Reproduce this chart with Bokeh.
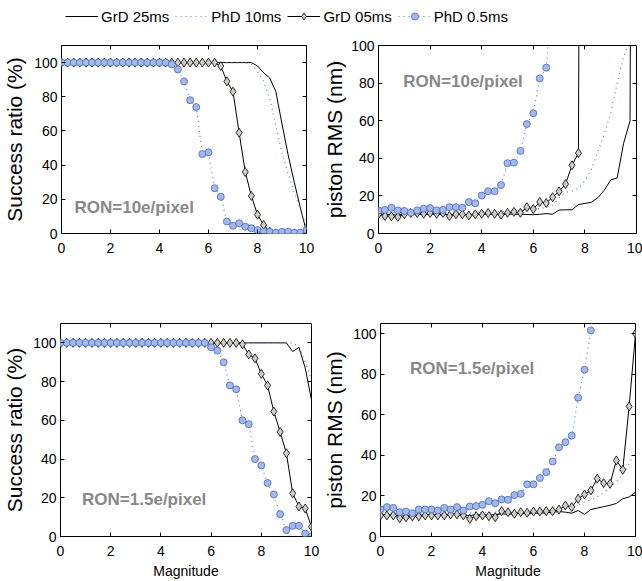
import numpy as np
from bokeh.plotting import figure
from bokeh.layouts import column, row
from bokeh.models import (Range1d, LinearAxis, SingleIntervalTicker, Label, Legend, LegendItem,
                          CustomJSTickFormatter)
from bokeh.embed import file_html
from bokeh.resources import INLINE

NAN = float("nan")

MAG = [0.0, 0.25, 0.5, 0.75, 1.0, 1.25, 1.5, 1.75, 2.0, 2.25, 2.5, 2.75, 3.0, 3.25,
       3.5, 3.75, 4.0, 4.25, 4.5, 4.75, 5.0, 5.25, 5.5, 5.75, 6.0, 6.25, 6.5, 6.75,
       7.0, 7.25, 7.5, 7.75, 8.0, 8.25, 8.5, 8.75, 9.0, 9.25, 9.5, 9.75, 10.0]

SERIES_NAMES = ["GrD 25ms", "PhD 10ms", "GrD 05ms", "PhD 0.5ms"]

# ---- RON = 10 e/pixel : success ratio (%)
SR10_GRD25 = [100] * 32 + [98, 94, 91, 83, 64, 46, 30, 15, 1]
SR10_PHD10 = [100] * 31 + [99, 95, 89, 79, 63, 47, 35, 24, 14, 4]
SR10_GRD05 = [100] * 26 + [98, 89, 83, 59, 36, 22, 11, 5, 1, 0, 0, 0, 0, 0, 0]
SR10_PHD05 = [100] * 18 + [99, 96, 89, 78, 74, 46.5, 47.5, 26.5, 21.5, 7, 4.5, 6, 4, 3, 2,
                           1, 1, 0.5, 1, 1, 0.5, 0.5, 2]

# ---- RON = 10 e/pixel : piston RMS (nm)
RMS10_GRD25 = [10.5, 10.2, 10.0, 9.8, 10.2, 10.5, 10.3, 10.0, 10.2, 10.4, 10.0, 10.1,
               10.3, 10.0, 10.2, 10.0, 10.1, 10.3, 10.2, 10.0, 10.4, 10.2, 10.3, 10.1,
               10.0, 10.2, 10.6, 10.2, 12.5, 12.6, 12.6, 15.4, 16.0, 16.6, 19.0, 23.0,
               28.5, 29.5, 48.0, 60.0, 1000.0]
RMS10_PHD10 = [11.5, 11.2, 11.0, 11.3, 11.0, 10.8, 11.2, 11.4, 11.0, 11.2, 11.3, 11.0,
               11.4, 11.2, 11.5, 11.3, 11.6, 11.4, 11.8, 11.6, 12.0, 12.2, 12.0, 12.5,
               12.8, 13.2, 13.8, 15, 19, 22, 22.5, 24, 28, 34, 43.5, 53, 64, 80, 94,
               103, 115]
RMS10_GRD05 = [10.2, 9.3, 9.1, 8.8, 10.2, 10.9, 10.9, 10.5, 10.9, 10.5, 10.9, 9.3, 10.2,
               10.2, 9.6, 10.2, 10.5, 10.9, 10.5, 10.0, 11, 11.5, 11, 14, 13, 16.8, 16.2,
               19.3, 22.4, 26.3, 36.3, 42.8, 1000.0] + [NAN] * 8
RMS10_PHD05 = [12.3, 12.6, 13.7, 12.3, 12.0, 11.0, 12.3, 13.2, 13.5, 12.3, 12.6, 14.0,
               14.0, 13.7, 16.7, 16.1, 20.2, 22.5, 22.5, 25.8, 37.4, 37.7, 43.9, 58.2,
               64.0, 82.5, 88.2, 130.0] + [NAN] * 13

# ---- RON = 1.5 e/pixel : success ratio (%)
SR15_GRD25 = [100] * 37 + [95.5, 97.7, 87, 70.5]
SR15_PHD10 = [100] * 38 + [98, 90, 81]
SR15_GRD05 = [100] * 29 + [99.3, 94, 92, 84, 78, 64.5, 54, 43, 22.3, 15.5, 14.5, 5]
SR15_PHD05 = [100] * 24 + [97.7, 96, 90, 78, 76, 60, 58, 40, 36.7, 27.6, 21.7, 11.5,
                           3.3, 5.5, 5.5, 1.5, 0]

# ---- RON = 1.5 e/pixel : piston RMS (nm)
RMS15_GRD25 = [10.5, 10.8, 10.6, 10.2, 10.0, 10.4, 10.6, 10.5, 10.8, 10.6, 10.4, 10.9,
               11.0, 10.6, 10.3, 10.8, 10.6, 10.5, 10.8, 11.2, 11.0, 11.2, 11.4, 11.2,
               11.4, 11.5, 11.7, 12.0, 12.3, 12.0, 11.5, 12.8, 10.9, 13.3, 14.0, 14.7,
               15.4, 16.3, 18.6, 19.5, 21.8]
RMS15_PHD10 = [11.8, 11.5, 11.6, 11.3, 11.2, 11.5, 11.6, 11.4, 11.7, 11.5, 11.6, 11.8,
               11.5, 11.3, 11.6, 11.8, 11.7, 11.9, 12.0, 11.8, 12.0, 12.1, 11.9, 12.2,
               12.0, 12.3, 12.2, 12.5, 12.8, 13.5, 14.5, 15.5, 17, 18, 19.5, 21.5, 24,
               27, 30.5, 36, 42]
RMS15_GRD05 = [10.4, 10.4, 10.4, 9.0, 9.5, 9.9, 9.9, 10.4, 10.4, 10.4, 10.4, 10.9, 10.9,
               10.4, 8.7, 10.0, 10.4, 10.0, 9.5, 12.5, 12.0, 11.2, 12.0, 11.7, 12.3, 12.3,
               12.5, 12.5, 13.3, 15.3, 14.5, 18.6, 20.7, 22.7, 28.5, 26.3, 26.0, 37.5,
               32.9, 64.1, 100.0]
RMS15_PHD05 = [13.3, 14.5, 14.1, 12.0, 12.3, 11.5, 13.3, 13.3, 13.3, 12.8, 14.1, 13.3,
               14.5, 12.8, 14.8, 15.0, 15.6, 17.4, 16.4, 18.3, 18.1, 20.4, 21.0, 25.7,
               25.7, 28.8, 31.7, 37.0, 44.0, 46.5, 49.7, 68.4, 82.2, 101.6, 130.0] + [NAN] * 6

BLUE_LINE = "#5b7cd6"
CIRCLE_FILL = "#a5b9e8"
CIRCLE_EDGE = "#4565c4"
DIAMOND_FILL = "#cdcdc5"
RON_COLOR = "#888888"
SANS = "Liberation Sans"


def style_axis(ax, labels=True, standoff=4, size="14px"):
    ax.major_tick_in = 4
    ax.major_tick_out = 0
    ax.minor_tick_in = 0
    ax.minor_tick_out = 0
    ax.minor_tick_line_color = None
    ax.axis_line_color = None
    ax.major_tick_line_color = "black"
    ax.major_label_text_font = SANS
    ax.major_label_text_color = "black"
    ax.major_label_text_font_size = size
    ax.major_label_standoff = standoff
    if not labels:
        ax.formatter = CustomJSTickFormatter(code="return '';")
        ax.major_label_standoff = 0
        ax.major_label_text_font_size = "1px"
        ax.axis_label = None
        ax.axis_label_standoff = 0


def panel(width, height, bl, br, bt, bb, ymax, ylabel, ylabel_size, ylabel_standoff, xlabel,
          grd25, phd10, grd05, phd05, ron_text, ron_x, ron_y):
    p = figure(width=width, height=height, x_range=Range1d(0, 10), y_range=Range1d(0, ymax),
               output_backend="svg", toolbar_location=None, title_location=None,
               min_border_left=bl, min_border_right=br, min_border_top=bt, min_border_bottom=bb)
    p.grid.visible = False
    p.outline_line_color = "black"
    p.outline_line_width = 1
    p.background_fill_color = "white"
    p.border_fill_color = "white"

    xa = p.below[0]
    ya = p.left[0]
    xt = SingleIntervalTicker(interval=2)
    yt = SingleIntervalTicker(interval=20)
    xa.ticker = xt
    ya.ticker = yt
    style_axis(xa, True, 9)
    style_axis(ya, True, 4)
    # mirrored tick marks on the top and right edges (no labels)
    top_ax = LinearAxis(ticker=xt, fixed_location=ymax)
    right_ax = LinearAxis(ticker=yt, fixed_location=10)
    style_axis(top_ax, False)
    style_axis(right_ax, False)
    p.add_layout(top_ax, "above")
    p.add_layout(right_ax, "right")

    ya.axis_label = ylabel
    ya.axis_label_text_font = SANS
    ya.axis_label_text_font_size = ylabel_size
    ya.axis_label_text_font_style = "normal"
    ya.axis_label_text_color = "black"
    ya.axis_label_standoff = ylabel_standoff
    if xlabel:
        xa.axis_label = xlabel
        xa.axis_label_text_font = SANS
        xa.axis_label_text_font_size = "14px"
        xa.axis_label_text_font_style = "normal"
        xa.axis_label_text_color = "black"
        xa.axis_label_standoff = 4
    else:
        xa.axis_label = None

    x = np.array(MAG)
    p.line(x, np.array(grd25, dtype=float), line_color="black", line_width=1)
    p.line(x, np.array(phd10, dtype=float), line_color=BLUE_LINE, line_width=1.2, line_dash="1 4")
    p.line(x, np.array(grd05, dtype=float), line_color="black", line_width=1)
    p.scatter(x, np.array(grd05, dtype=float), marker="diamond", size=9,
              fill_color=DIAMOND_FILL, line_color="black", line_width=0.8)
    p.line(x, np.array(phd05, dtype=float), line_color=BLUE_LINE, line_width=1.2, line_dash="1 4")
    p.scatter(x, np.array(phd05, dtype=float), marker="circle", size=7,
              fill_color=CIRCLE_FILL, line_color=CIRCLE_EDGE, line_width=0.8)

    p.add_layout(Label(x=ron_x, y=ron_y, text=ron_text, text_font=SANS, text_font_size="17px",
                       text_font_style="bold", text_color=RON_COLOR, text_baseline="alphabetic"))
    return p


tl = panel(320, 270, 59, 14, 11, 71, 110, "Success ratio (%)", "21px", 5, None,
           SR10_GRD25, SR10_PHD10, SR10_GRD05, SR10_PHD05, "RON=10e/pixel", 0.53, 15)
tr = panel(322, 270, 57, 6, 11, 69, 100, "piston RMS (nm)", "21px", 2, None,
           RMS10_GRD25, RMS10_PHD10, RMS10_GRD05, RMS10_PHD05, "RON=10e/pixel", 0.96, 80.7)
bl = panel(320, 277, 58, 9, 13, 45, 110, "Success ratio (%)", "21px", 4, "Magnitude",
           SR15_GRD25, SR15_PHD10, SR15_GRD05, SR15_PHD05, "RON=1.5e/pixel", 0.86, 19)
br = panel(322, 277, 60, 7, 19, 45, 105, "piston RMS (nm)", "21px", 4, "Magnitude",
           RMS15_GRD25, RMS15_PHD10, RMS15_GRD05, RMS15_PHD05, "RON=1.5e/pixel", 1.16, 82.7)

# ---- legend strip
lg = figure(width=642, height=34, x_range=Range1d(0, 1), y_range=Range1d(0, 1),
            output_backend="svg", toolbar_location=None, title_location=None, min_border=0,
            x_axis_location=None, y_axis_location=None)
lg.grid.visible = False
lg.outline_line_color = None
PROXY = [NAN]
r1 = lg.line(x=PROXY, y=PROXY, line_color="black", line_width=1)
r2 = lg.line(x=PROXY, y=PROXY, line_color=BLUE_LINE, line_width=1.2, line_dash="1 4")
r3a = lg.line(x=PROXY, y=PROXY, line_color="black", line_width=1)
r3b = lg.scatter(x=PROXY, y=PROXY, marker="diamond", size=9, fill_color=DIAMOND_FILL,
                 line_color="black", line_width=0.8)
r4a = lg.line(x=PROXY, y=PROXY, line_color=BLUE_LINE, line_width=1.2, line_dash="1 4")
r4b = lg.scatter(x=PROXY, y=PROXY, marker="circle", size=6, fill_color=CIRCLE_FILL,
                 line_color=CIRCLE_EDGE, line_width=0.8)
legend = Legend(items=[LegendItem(label=SERIES_NAMES[0], renderers=[r1]),
                       LegendItem(label=SERIES_NAMES[1], renderers=[r2]),
                       LegendItem(label=SERIES_NAMES[2], renderers=[r3a, r3b]),
                       LegendItem(label=SERIES_NAMES[3], renderers=[r4a, r4b])],
                orientation="horizontal", location=(65, 9), glyph_width=33, glyph_height=18,
                label_standoff=3, spacing=6, padding=0, margin=0,
                border_line_color=None, background_fill_alpha=0,
                label_text_font=SANS, label_text_font_size="15px", label_text_color="black")
lg.add_layout(legend)

layout = column(lg, row(tl, tr), row(bl, br))
open("out.html", "w").write(file_html(layout, INLINE))
